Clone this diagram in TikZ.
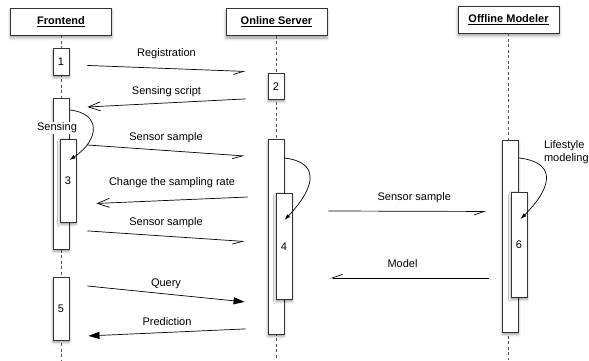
\documentclass[tikz,border=0pt]{standalone}
\usepackage{fontspec}
\setmainfont{Liberation Sans}
\usepackage{tikz}
\usetikzlibrary{calc,arrows.meta,shadows.blur}
\definecolor{edge}{HTML}{333333}
\definecolor{life}{HTML}{555555}

\begin{document}
\begin{tikzpicture}[x=1pt, y=-1pt, every node/.style={font=\fontsize{11}{13}\selectfont, align=center},
  actor/.style={draw=edge, fill=white, line width=0.9pt, minimum width=101pt, minimum height=27pt,
    blur shadow={shadow xshift=0pt, shadow yshift=-2.5pt, shadow blur radius=3pt}},
  act/.style={draw=edge, fill=white, line width=0.9pt, minimum width=16pt, inner sep=0pt, anchor=north,
    blur shadow={shadow xshift=0pt, shadow yshift=-2pt, shadow blur radius=2.5pt}},
  lifeline/.style={life, line width=0.8pt, dash pattern=on 3pt off 2.5pt},
  msg/.style={line width=0.7pt, -{Straight Barb[harpoon, swap, length=10pt, width=7pt]}},
  reply/.style={line width=0.7pt, -{Straight Barb[length=12pt, width=9pt]}},
  call/.style={line width=0.7pt, -{Triangle[length=11pt, width=7pt]}},
  self/.style={line width=0.7pt, -{Latex[length=6pt, width=4pt]}},
  lbl/.style={midway, inner sep=0pt, text height=8pt, text depth=2.5pt}]
\useasboundingbox (0,0) rectangle (589,360);

% lifelines
\node[actor] (fe) at (61,21.5) {\underline{\textbf{Frontend}}};
\node[actor] (srv) at (276.5,22) {\underline{\textbf{Online Server}}};
\node[actor] (mod) at (508.5,19.5) {\underline{\textbf{Offline Modeler}}};
\draw[lifeline] (fe.south) -- (fe.south |- 0,360);
\draw[lifeline] (srv.south) -- (srv.south |- 0,360);
\draw[lifeline] (mod.south) -- (mod.south |- 0,360);

% activations
\node[act, minimum height=27pt] (a1) at (61,48) {1};
\node[act, minimum height=26pt] (a2) at (276,73) {2};
\node[act, minimum height=151pt] (feb) at (61,98) {};
\node[act, minimum height=83pt] (a3) at (68,139) {3};
\node[act, minimum height=195pt] (srvb) at (276,139) {};
\node[act, minimum height=106pt] (a4) at (284,193) {4};
\node[act, minimum height=63pt] (a5) at (61,277) {5};
\node[act, minimum height=192pt] (modb) at (510.5,140) {};
\node[act, minimum height=105pt] (a6) at (519,192) {6};

% messages
\draw[msg] ($(a1.east)+(18,3.5)$) -- node[lbl, above=9pt] {Registration} ($(a2.west)+(-22,-15)$);
\draw[reply] ($(a2.south west)+(-22,-1)$) -- node[lbl, above=5.5pt] {Sensing script} ($(feb.north east)+(18,9)$);
\draw[msg] ($(a3.north east)+(11,6)$) -- node[lbl, above=7.5pt] {Sensor sample} ($(srvb.north west)+(-23,17)$);
\draw[reply] ($(a4.north west)+(-28,4)$) -- node[lbl, above=12pt] {Change the sampling rate} ($(a3.east)+(20,22.5)$);
\draw[msg] ($(feb.south east)+(18,-19)$) -- node[lbl, above=7.5pt] {Sensor sample} ($(a4.west)+(-31,-5)$);
\draw[msg] ($(a4.north east)+(36,18)$) -- node[lbl, above=8pt, xshift=7pt] {Sensor sample} ($(modb.west)+(-16,-25)$);
\draw[msg] ($(a6.south west)+(-22,-20)$) -- node[lbl, above=8pt, xshift=-7pt] {Model} ($(a4.south east)+(38,-22)$);
\draw[call] ($(a5.north east)+(18,9)$) -- node[lbl, above=4.5pt] {Query} ($(srvb.south west)+(-23,-33)$);
\draw[call] ($(srvb.south west)+(-22,-6)$) -- node[lbl, above=4.5pt] {Prediction} ($(a5.south east)+(19,-5)$);

% self calls
\draw[self] ($(feb.north east)+(0,12)$) .. controls ($(feb.north east)+(32,15)$) and ($(a3.north west)+(40,1)$) .. ($(a3.north west)+(10,21)$);
\draw[self] ($(srvb.north east)+(0,19)$) .. controls ($(srvb.north east)+(34,23)$) and ($(a4.north west)+(42,-8)$) .. ($(a4.north west)+(9,27)$);
\draw[self] ($(modb.north east)+(0,18)$) .. controls ($(modb.north east)+(36,22)$) and ($(a6.north west)+(44,-7)$) .. ($(a6.north west)+(10,27)$);
\node[fill=white, inner sep=1pt] (sensing) at (57,128) {Sensing};
\node[anchor=north west, align=left] (lifestyle) at (540.5,137) {Lifestyle\\modeling};
\end{tikzpicture}
\end{document}
